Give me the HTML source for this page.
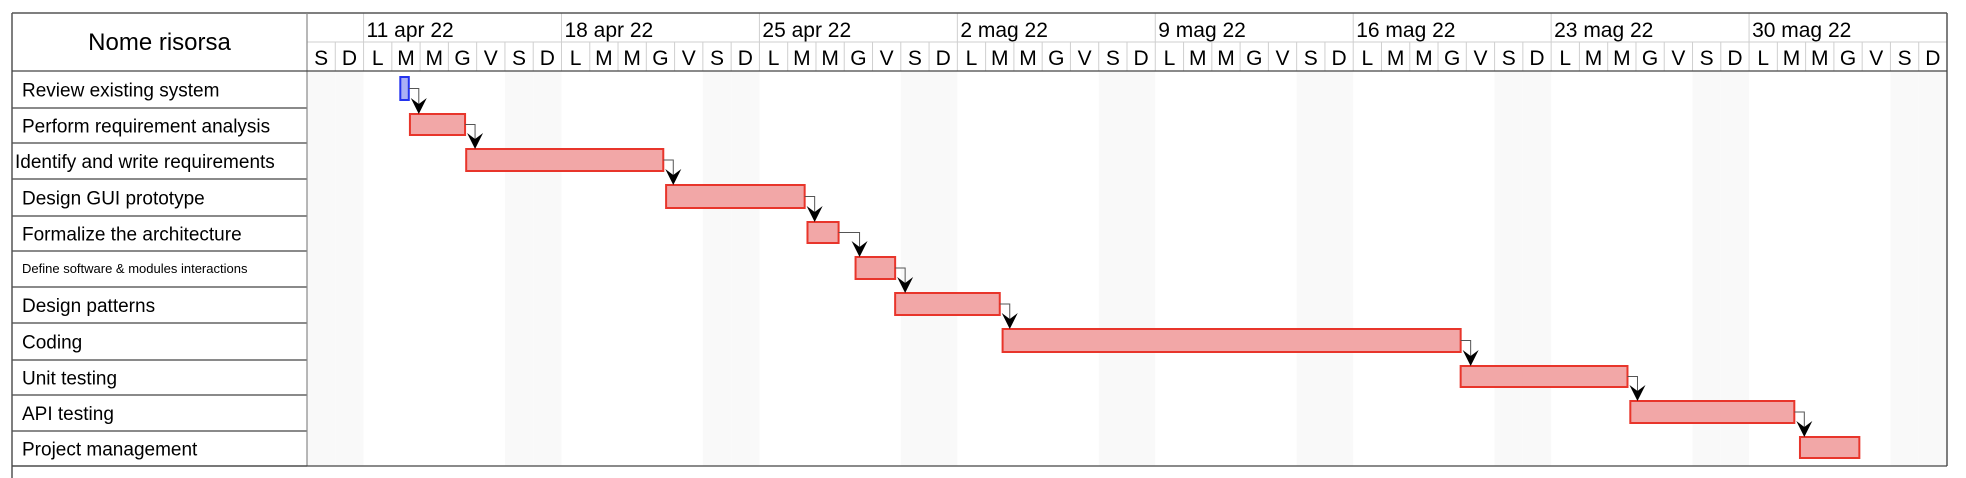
<!DOCTYPE html>
<html><head><meta charset="utf-8">
<style>
html,body{margin:0;padding:0;background:#fff;}
svg{display:block;font-family:"Liberation Sans",Arial,sans-serif;}
</style></head>
<body>
<svg id="chart" width="1966" height="478" viewBox="0 0 1966 478" xmlns="http://www.w3.org/2000/svg"></svg>
<script>
const tasks = ["Review existing system","Perform requirement analysis","Identify and write requirements","Design GUI prototype","Formalize the architecture","Define software & modules interactions","Design patterns","Coding","Unit testing","API testing","Project management"];
const taskStart = [3.3,3.64,5.63,12.7,17.7,19.4,20.8,24.6,40.8,46.8,52.8];
const taskEnd = [3.6,5.59,12.6,17.6,18.8,20.8,24.5,40.8,46.7,52.6,54.9];
const weekLabels = ["11 apr 22","18 apr 22","25 apr 22","2 mag 22","9 mag 22","16 mag 22","23 mag 22","30 mag 22"];
const dayLetters = ["S","D","L","M","M","G","V"];
const numDays = 58;

const NS="http://www.w3.org/2000/svg";
const svg=document.getElementById('chart');
const L=12,R=1947,TOP=13,MID=42,HB=71,LC=307,BOT=466;
const dw=(R-LC)/numDays;
const rowTops=[71,108,143,179,216,251,287,323,360,395,431,466];
function xOf(d){return LC+d*dw;}
function el(tag,attrs,parent){const e=document.createElementNS(NS,tag);for(const k in attrs)e.setAttribute(k,attrs[k]);(parent||svg).appendChild(e);return e;}

for(let d=0;d<numDays;d++){
  const dl=d%7;
  if(dl===0||dl===1){
    const r=el('rect',{x:xOf(d),y:HB,width:dw,height:BOT-HB,fill:'#f9f9f9'});
    
    
  }
}
for(let d=0;d<numDays;d++){
  el('line',{x1:xOf(d),y1:MID,x2:xOf(d),y2:HB,stroke:'#cfcfcf','stroke-width':1});
  const t=el('text',{x:xOf(d)+dw/2,y:65,'font-size':21,'text-anchor':'middle',fill:'#000'});
  t.textContent=dayLetters[d%7];
  
  
}
el('line',{x1:LC,y1:MID,x2:R,y2:MID,stroke:'#cfcfcf','stroke-width':1});
weekLabels.forEach((w,i)=>{
  const d=2+i*7;
  el('line',{x1:xOf(d),y1:TOP,x2:xOf(d),y2:MID,stroke:'#cfcfcf','stroke-width':1});
  const t=el('text',{x:xOf(d)+3,y:37,'font-size':21,fill:'#000'});
  t.textContent=w;
  
  
});
const h=el('text',{x:(L+LC)/2,y:50,'font-size':24,'text-anchor':'middle',fill:'#000'});
h.textContent="Nome risorsa";


tasks.forEach((t,i)=>{
  const y0=rowTops[i],y1=rowTops[i+1];
  el('line',{x1:L,y1:y1,x2:LC,y2:y1,stroke:'#444','stroke-width':1.3});
  const small=t.length>35;
  const tx=el('text',{x:i===2?15:22,y:(y0+y1)/2+(small?4:7),'font-size':small?13:19,fill:'#000'});
  tx.textContent=t;
  
  
});
el('line',{x1:L,y1:TOP,x2:R,y2:TOP,stroke:'#555','stroke-width':1.5});
el('line',{x1:L,y1:TOP,x2:L,y2:478,stroke:'#555','stroke-width':1.5});
el('line',{x1:R,y1:TOP,x2:R,y2:BOT,stroke:'#555','stroke-width':1.5});
el('line',{x1:LC,y1:TOP,x2:LC,y2:BOT,stroke:'#888','stroke-width':1.2});
el('line',{x1:L,y1:HB,x2:R,y2:HB,stroke:'#444','stroke-width':1.3});
el('line',{x1:L,y1:BOT,x2:R,y2:BOT,stroke:'#444','stroke-width':1.3});

const bars=[];
tasks.forEach((t,i)=>{
  const y0=rowTops[i],y1=rowTops[i+1];
  const bx=xOf(taskStart[i]),bw=xOf(taskEnd[i])-bx;
  const by=y0+6,bh=y1-y0-14;
  const r=el('rect',{x:bx,y:by,width:bw,height:bh,fill:i===0?'#aab0f5':'#f2a7a7',stroke:i===0?'#2433ee':'#e8352b','stroke-width':2});
  
  
  bars.push({x:bx,w:bw,y:by,h:bh});
});
for(let i=0;i<bars.length-1;i++){
  const a=bars[i],b=bars[i+1];
  const ex=a.x+a.w,ey=a.y+a.h/2;
  const ax=Math.max(ex+10,b.x+4);
  const p=el('path',{d:`M${ex},${ey} H${ax} V${b.y-2}`,fill:'none',stroke:'#555','stroke-width':1});
  
  
  const ah=el('path',{d:`M${ax-8},${b.y-16} L${ax},${b.y} L${ax+8},${b.y-16} L${ax},${b.y-10} Z`,fill:'#000'});
  
  
}
</script>
</body></html>
